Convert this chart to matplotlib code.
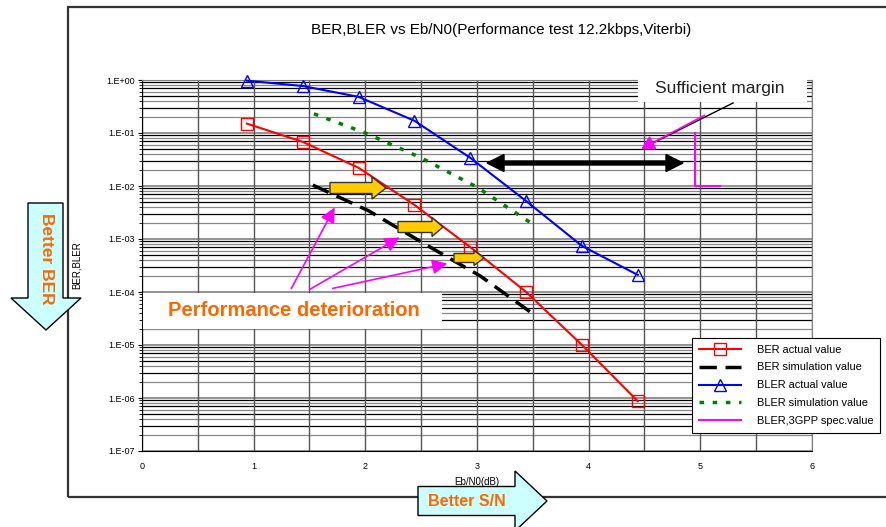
import matplotlib
matplotlib.use("Agg")
import matplotlib.pyplot as plt
import matplotlib.patches as mpatches
from matplotlib.lines import Line2D
from matplotlib.ticker import MultipleLocator, NullFormatter

plt.rcParams["font.family"] = ["Liberation Sans", "DejaVu Sans"]

# Measured points (Eb/N0 in dB)
ebn0_actual = [0.94, 1.44, 1.94, 2.44, 2.94, 3.44, 3.94, 4.44]
ber_actual = [0.15, 0.068, 0.022, 0.0044, 7.0e-4, 1.0e-4, 1.0e-5, 8.7e-7]
bler_actual = [0.97, 0.77, 0.48, 0.17, 0.034, 0.0052, 7.4e-4, 2.1e-4]

# Simulation curves
ebn0_ber_sim = [1.53, 2.03, 2.53, 3.03, 3.53]
ber_sim = [0.0104, 3.4e-3, 8.1e-4, 2.0e-4, 3.5e-5]
ebn0_bler_sim = [1.54, 2.0, 2.5, 3.0, 3.5]
bler_sim = [0.23, 0.10, 0.034, 0.0095, 0.0019]

# 3GPP requirement
ebn0_spec = [4.95, 4.95, 5.18]
bler_spec = [0.1, 0.01, 0.01]

x_ticks = [0, 1, 2, 3, 4, 5, 6]
decades = [0, -1, -2, -3, -4, -5, -6, -7]
y_tick_labels = [f"1.E{d:+03d}" for d in decades]

W, H = 887, 527
ORANGE = "#ff6600"


def fp(x, y):
    # pixel position (from top-left) -> figure fraction
    return (x / W, 1 - y / H)


def add_poly(fig, verts, fc, ec="black", lw=1.0, z=5):
    fig.add_artist(mpatches.Polygon(
        [fp(*v) for v in verts], closed=True, transform=fig.transFigure,
        facecolor=fc, edgecolor=ec, linewidth=lw, zorder=z))


def hblock_arrow(x0, hx, tip, yc, body, head):
    b, h = body / 2, head / 2
    return [(x0, yc - b), (hx, yc - b), (hx, yc - h), (tip, yc),
            (hx, yc + h), (hx, yc + b), (x0, yc + b)]


def main():
    fig = plt.figure(figsize=(W / 100, H / 100), dpi=100)
    ax = fig.add_axes([142 / W, 1 - 451 / H, 670 / W, 371 / H])

    # outer frame
    fig.add_artist(mpatches.Rectangle(
        fp(68, 497), (W + 10 - 68) / W, 490 / H, transform=fig.transFigure,
        fill=False, edgecolor="#333333", linewidth=1.6, zorder=0))

    ax.set_yscale("log")
    ax.set_xlim(0, 6)
    ax.set_ylim(1e-7, 1)

    # grid
    ax.xaxis.set_minor_locator(MultipleLocator(0.5))
    ax.grid(which="both", axis="x", color="#555555", linewidth=1.0,
            zorder=0.5)
    for d in decades:
        ax.axhline(10.0 ** d, color="#808080", linewidth=1.2, zorder=0.5)
        if d == 0:
            continue
        for m in range(2, 10):
            ax.axhline(m * 10.0 ** d, color="black" if m % 2 else "#888888",
                       linewidth=0.9, zorder=0.5)

    ax.plot(ebn0_actual, ber_actual, color="red", lw=1.5, marker="s",
            ms=8, mfc="none", mec="red", mew=1.0, label="BER actual value",
            zorder=4, clip_on=False)
    ax.plot(ebn0_ber_sim, ber_sim, color="black", lw=2.5,
            linestyle=(0, (5, 2.5)), label="BER simulation value", zorder=4)
    ax.plot(ebn0_actual, bler_actual, color="blue", lw=1.5, marker="^",
            ms=9, mfc="none", mec="blue", mew=1.0, label="BLER actual value",
            zorder=4, clip_on=False)
    ax.plot(ebn0_bler_sim, bler_sim, color="#008000", lw=2.5,
            linestyle=(0, (1.3, 2.5)), label="BLER simulation value",
            zorder=4)
    ax.plot(ebn0_spec, bler_spec, color="magenta", lw=1.5,
            label="BLER,3GPP spec.value", zorder=4)

    ax.set_xticks(x_ticks)
    ax.set_xticklabels([str(t) for t in x_ticks])
    ax.set_yticks([10.0 ** d for d in decades])
    ax.set_yticklabels(y_tick_labels)
    ax.yaxis.set_minor_formatter(NullFormatter())
    ax.tick_params(axis="x", which="both", length=0, pad=8, labelsize=6.5)
    ax.tick_params(axis="y", which="major", length=3, pad=2, labelsize=6.5)
    ax.tick_params(axis="y", which="minor", length=2)
    for s in ("left", "bottom"):
        ax.spines[s].set_color("black")
    for s in ("top", "right"):
        ax.spines[s].set_color("#808080")

    ax.set_xlabel("Eb/N0(dB)", fontsize=7)
    ax.xaxis.set_label_coords(0.5, -0.070)
    ax.set_ylabel("BER,BLER", fontsize=7)
    ax.yaxis.set_label_coords(-0.09, 0.5)

    fig.text(*fp(501, 30), "BER,BLER vs Eb/N0(Performance test 12.2kbps,Viterbi)",
             ha="center", va="center", fontsize=11)

    leg = ax.legend(loc="upper left", bbox_to_anchor=fp(692, 338),
                    bbox_transform=fig.transFigure, fontsize=7.9,
                    fancybox=False, edgecolor="black", framealpha=1,
                    handlelength=3.9, handletextpad=1.4, labelspacing=0.72,
                    borderpad=0.6, borderaxespad=0, numpoints=1)
    leg.get_frame().set_linewidth(0.8)
    leg.set_zorder(10)

    # "Sufficient margin" label
    fig.add_artist(mpatches.Rectangle(
        fp(638, 102), 169 / W, 26 / H, transform=fig.transFigure,
        facecolor="white", edgecolor="none", zorder=3))
    fig.text(*fp(720, 88), "Sufficient margin", ha="center", va="center",
             fontsize=12.5, color="#222222", zorder=6)
    fig.add_artist(Line2D([733 / W, 643 / W], [1 - 103 / H, 1 - 148 / H],
                          color="black", lw=1.0, zorder=6))
    fig.add_artist(mpatches.FancyArrowPatch(
        fp(707, 114), fp(639, 150), transform=fig.transFigure,
        arrowstyle="-|>,head_length=0.6,head_width=0.35", mutation_scale=13,
        color="magenta", lw=1.2, zorder=7))

    # margin double arrow
    add_poly(fig, [(487, 163), (504, 154.5), (504, 161), (666, 161),
                   (666, 154.5), (683, 163), (666, 171.5), (666, 165),
                   (504, 165), (504, 171.5)], "black", z=6)

    # yellow shift arrows
    add_poly(fig, hblock_arrow(330, 372, 386, 188, 11, 22), "#ffcc00",
             ec="#333333")
    add_poly(fig, hblock_arrow(398, 432, 443, 227, 11, 19), "#ffcc00",
             ec="#333333")
    add_poly(fig, hblock_arrow(454, 474, 484, 258, 9, 15), "#ffcc00",
             ec="#333333")

    # "Performance deterioration" label with pointers
    fig.add_artist(mpatches.Rectangle(
        fp(143, 329), 299 / W, 36 / H, transform=fig.transFigure,
        facecolor="white", edgecolor="none", zorder=3))
    fig.text(*fp(294, 310), "Performance deterioration", ha="center",
             va="center", fontsize=14.5, fontweight="bold", color=ORANGE,
             zorder=6)
    for tail, tip in [((290, 291), (336, 205)), ((307, 291), (402, 236)),
                      ((330, 289), (450, 263))]:
        fig.add_artist(mpatches.FancyArrowPatch(
            fp(*tail), fp(*tip), transform=fig.transFigure,
            arrowstyle="-|>,head_length=0.6,head_width=0.3",
            mutation_scale=15, color="magenta", lw=1.2, zorder=7))

    # "Better BER" / "Better S/N" block arrows
    add_poly(fig, [(28, 203), (63, 203), (63, 298), (81, 298), (46, 330),
                   (11, 298), (28, 298)], "#ccffff", z=8)
    fig.text(*fp(46, 259), "Better BER", rotation=-90, ha="center",
             va="center", fontsize=12.5, fontweight="bold", color=ORANGE,
             zorder=9)
    add_poly(fig, hblock_arrow(418, 515, 547, 501, 29, 60), "#ccffff", z=8)
    fig.text(*fp(467, 502), "Better S/N", ha="center", va="center",
             fontsize=11.5, fontweight="bold", color=ORANGE, zorder=9)

    fig.savefig("out.png", dpi=100)


if __name__ == "__main__":
    main()
